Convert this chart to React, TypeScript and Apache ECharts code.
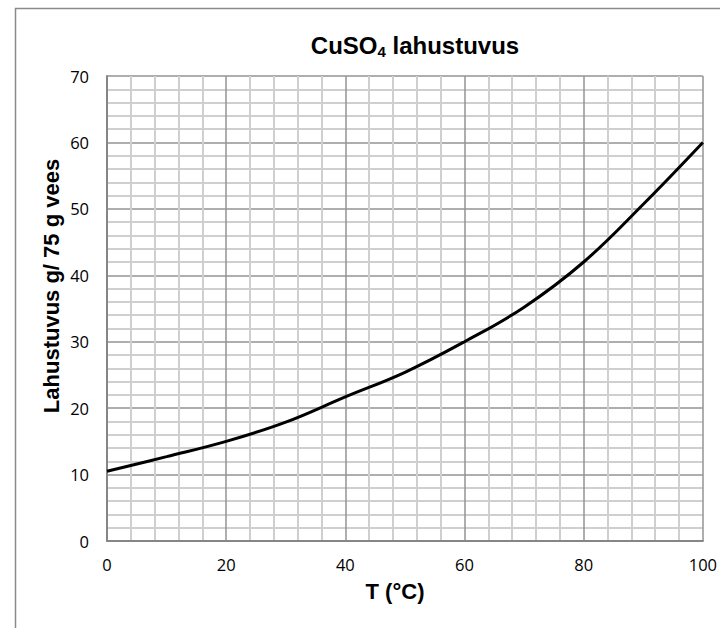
import React, { useEffect, useRef } from "react";
import * as echarts from "echarts";

const temperatures = [0, 10, 20, 30, 40, 50, 60, 70, 80, 90, 100];
const solubility = [10.5, 12.7, 15, 17.9, 21.7, 25.4, 30, 35.2, 42, 50.7, 60];
const titleMain = "CuSO";
const titleSub = "4";
const titleRest = " lahustuvus";
const xName = "T (°C)";
const yName = "Lahustuvus g/ 75 g vees";

export default function App() {
  const ref = useRef<HTMLDivElement>(null);
  useEffect(() => {
    if (!ref.current) return;
    const chart = echarts.init(ref.current, null, { renderer: "svg" });
    const font = "'Liberation Sans', Arial, sans-serif";
    const labelFont = "'Open Sans', 'Liberation Sans', sans-serif";
    chart.setOption({
      animation: false,
      backgroundColor: "#ffffff",
      title: {
        text: `{b|${titleMain}}{s|${titleSub}}{b|${titleRest}}`,
        left: 410,
        top: 27,
        textAlign: "center",
        textStyle: {
          rich: {
            b: { fontFamily: font, fontSize: 24, fontWeight: "bold", color: "#000" },
            s: { fontFamily: font, fontSize: 15, fontWeight: "bold", color: "#000", padding: [12, 0, 0, 0] },
          },
        },
      },
      graphic: [
        {
          type: "rect",
          shape: { x: 15.5, y: 8.5, width: 800, height: 700 },
          style: { fill: "none", stroke: "#8a8a8a", lineWidth: 1.5 },
          silent: true,
        },
        {
          type: "text",
          x: 395,
          y: 591,
          style: {
            text: xName,
            fontFamily: font,
            fontSize: 22,
            fontWeight: "bold",
            fill: "#000",
            align: "center",
            verticalAlign: "middle",
          },
        },
        {
          type: "text",
          x: 51,
          y: 286,
          rotation: Math.PI / 2,
          style: {
            text: yName,
            fontFamily: font,
            fontSize: 22,
            fontWeight: "bold",
            fill: "#000",
            align: "center",
            verticalAlign: "middle",
          },
        },
      ],
      grid: { left: 107, right: 14, top: 76, bottom: 87 },
      xAxis: {
        type: "value",
        min: 0,
        max: 100,
        interval: 20,
        axisLine: { show: true, lineStyle: { color: "#868686", width: 2 } },
        axisTick: { show: false },
        axisLabel: { fontFamily: labelFont, fontSize: 16.5, color: "#000", margin: 15 },
        splitLine: { show: true, lineStyle: { color: "#939393", width: 1.5 } },
        minorTick: { show: false, splitNumber: 5 },
        minorSplitLine: { show: true, lineStyle: { color: "#cfcfcf", width: 2 } },
      },
      yAxis: {
        type: "value",
        min: 0,
        max: 70,
        interval: 10,
        axisLine: { show: true, lineStyle: { color: "#868686", width: 2 } },
        axisTick: { show: false },
        axisLabel: { fontFamily: labelFont, fontSize: 16.5, color: "#000", margin: 18 },
        splitLine: { show: true, lineStyle: { color: "#939393", width: 1.5 } },
        minorTick: { show: false, splitNumber: 5 },
        minorSplitLine: { show: true, lineStyle: { color: "#cfcfcf", width: 2 } },
      },
      series: [
        {
          type: "line",
          data: temperatures.map((t, i) => [t, solubility[i]]),
          smooth: 0.4,
          showSymbol: false,
          lineStyle: { color: "#000", width: 3 },
        },
      ],
    });
    return () => chart.dispose();
  }, []);
  return <div ref={ref} style={{ width: 720, height: 628, position: "absolute", left: 0, top: 0 }} />;
}
